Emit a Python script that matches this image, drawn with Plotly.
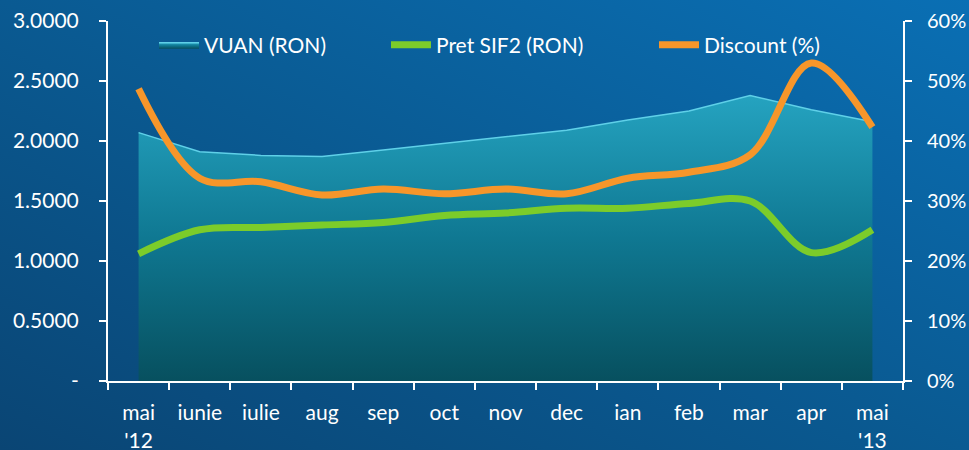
import plotly.graph_objects as go
import urllib.parse

categories = ["mai<br>'12", "iunie", "iulie", "aug", "sep", "oct", "nov", "dec", "ian", "feb", "mar", "apr", "mai<br>'13"]
vuan = [2.07, 1.91, 1.88, 1.87, 1.925, 1.98, 2.03, 2.09, 2.175, 2.25, 2.38, 2.26, 2.16]
pret = [1.06, 1.26, 1.28, 1.30, 1.32, 1.38, 1.40, 1.44, 1.44, 1.48, 1.50, 1.07, 1.26]
discount = [48.7, 33.8, 33.2, 31.0, 32.0, 31.2, 32.0, 31.2, 33.8, 34.8, 37.7, 53.0, 42.3]

left_vals = [0, 0.5, 1.0, 1.5, 2.0, 2.5, 3.0]
left_text = ["-", "0.5000", "1.0000", "1.5000", "2.0000", "2.5000", "3.0000"]
right_vals = [0, 10, 20, 30, 40, 50, 60]
right_text = ["0%", "10%", "20%", "30%", "40%", "50%", "60%"]

FONT = "Lato"
WHITE = "#ffffff"
W, H = 969, 450
ML, MR, MT, MB = 108, 66, 21, 69
PW, PH = W - ML - MR, H - MT - MB

svg = (
    "<svg xmlns='http://www.w3.org/2000/svg' width='969' height='450' preserveAspectRatio='none'>"
    "<defs><linearGradient id='g' x1='0' y1='1' x2='1' y2='0'>"
    "<stop offset='0' stop-color='#0a4574'/>"
    "<stop offset='0.5' stop-color='#0a5a92'/>"
    "<stop offset='1' stop-color='#0a6fb4'/>"
    "</linearGradient></defs>"
    "<rect width='969' height='450' fill='url(#g)'/></svg>"
)
bg_src = "data:image/svg+xml;charset=utf-8," + urllib.parse.quote(svg)

fig = go.Figure()

fig.add_trace(go.Scatter(
    x=categories, y=vuan, name="VUAN (RON)", mode="lines",
    line=dict(color="#5fd0e8", width=1.5),
    fill="tozeroy",
    fillgradient=dict(type="vertical", colorscale=[[0, "#07505f"], [0.5, "#0f7892"], [1, "#25a3c0"]]),
    yaxis="y", legend="legend",
))
fig.add_trace(go.Scatter(
    x=categories, y=pret, name="Pret SIF2 (RON)", mode="lines",
    line=dict(color="#7ccc2a", width=7, shape="spline", smoothing=1.0),
    yaxis="y", legend="legend2",
))
fig.add_trace(go.Scatter(
    x=categories, y=discount, name="Discount (%)", mode="lines",
    line=dict(color="#f7962a", width=7, shape="spline", smoothing=1.0),
    yaxis="y2", legend="legend3",
))

def px_x(p):
    return (p - ML) / PW

def px_y(p):
    return (H - MB - p) / PH

leg_common = dict(orientation="h", yanchor="middle", xanchor="left",
                  bgcolor="rgba(0,0,0,0)", font=dict(family=FONT, size=21, color=WHITE),
                  itemwidth=40)

fig.update_layout(
    width=W, height=H,
    margin=dict(l=ML, r=MR, t=MT, b=MB),
    paper_bgcolor="#0a5688",
    plot_bgcolor="rgba(0,0,0,0)",
    images=[dict(source=bg_src, xref="paper", yref="paper",
                 x=-ML / PW, y=1 + MT / PH, sizex=W / PW, sizey=H / PH,
                 xanchor="left", yanchor="top", sizing="stretch", layer="below")],
    font=dict(family=FONT, size=21, color=WHITE),
    showlegend=True,
    legend=dict(x=px_x(154), y=px_y(45), **leg_common),
    legend2=dict(x=px_x(386), y=px_y(45), **leg_common),
    legend3=dict(x=px_x(654), y=px_y(45), **leg_common),
    xaxis=dict(
        type="category", range=[-0.5, 12.5], showgrid=False, zeroline=False, automargin=False,
        showline=True, linecolor=WHITE, linewidth=2,
        ticks="outside", tickson="boundaries", ticklen=7, tickwidth=2, tickcolor=WHITE,
        tickfont=dict(family=FONT, size=21, color=WHITE), ticklabelstandoff=12,
    ),
    yaxis=dict(
        range=[0, 3.0], tickvals=left_vals, ticktext=left_text, showgrid=False, zeroline=False,
        automargin=False,
        showline=True, linecolor=WHITE, linewidth=2,
        ticks="outside", ticklen=7, tickwidth=2, tickcolor=WHITE,
        tickfont=dict(family=FONT, size=21, color=WHITE), ticklabelstandoff=16,
    ),
    yaxis2=dict(
        range=[0, 60], tickvals=right_vals, ticktext=right_text, overlaying="y", side="right",
        showgrid=False, zeroline=False, automargin=False,
        showline=True, linecolor=WHITE, linewidth=2,
        ticks="outside", ticklen=7, tickwidth=2, tickcolor=WHITE,
        tickfont=dict(family=FONT, size=20, color=WHITE), ticklabelstandoff=11,
    ),
)

fig.write_html("out.html",
               config={"displayModeBar": False},
               post_script="document.body.style.margin='0';document.body.style.overflow='hidden';")
